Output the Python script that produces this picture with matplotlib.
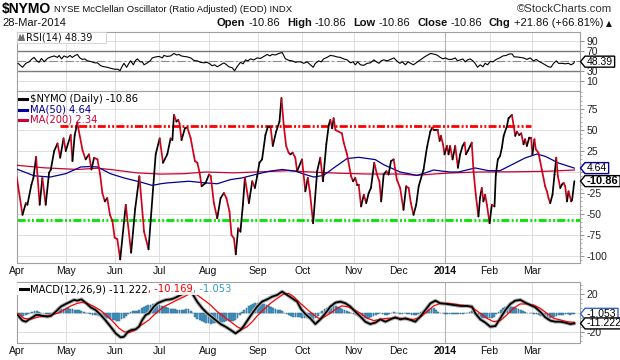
import numpy as np
import matplotlib
matplotlib.use("Agg")
import matplotlib.pyplot as plt
from matplotlib.collections import LineCollection
from matplotlib.transforms import IdentityTransform, blended_transform_factory
from matplotlib.patches import Polygon, Rectangle
from matplotlib.lines import Line2D
from matplotlib.ticker import MultipleLocator, FixedLocator, FixedFormatter

# ---------------- data (x = trading-day index from 1-Apr-2013) ----------------
month_labels = ["Apr", "May", "Jun", "Jul", "Aug", "Sep", "Oct", "Nov", "Dec", "2014", "Feb", "Mar"]
month_idx = [0, 22, 44, 64, 86, 108, 128, 151, 171, 192, 212, 231]

nymo_day = [
    0, 2.6, 4.1, 4.8, 6.6, 7.5, 8.7, 10.3, 11.5, 13,
    14.5, 15.3, 16.8, 18.3, 19.5, 21, 22, 24.2, 25, 26,
    27.2, 29.5, 30.9, 32.4, 33.5, 34.7, 36.2, 37.4, 38.4, 39.5,
    40.6, 41.8, 42.9, 43.9, 45.1, 46.4, 48.9, 51.3, 53.1, 55,
    57.1, 59.1, 62.3, 64.1, 65.6, 67.5, 69, 69.8, 70.5, 71.6,
    72.4, 73, 73.9, 75.4, 76.5, 78, 79.9, 81, 82, 82.9,
    84.7, 86.2, 87, 88.4, 89.9, 91.4, 92.9, 94, 95.4, 96.3,
    97.4, 98.2, 99.3, 100.3, 101.4, 102.3, 104.1, 105.6, 106.8, 107.8,
    108.8, 110, 111.5, 112.6, 113.8, 114.8, 116.3, 117.8, 118.7, 119.7,
    120.8, 121.9, 122.7, 123.7, 124.9, 125.7, 127.9, 129.4, 130.5, 131.4,
    132.9, 134.7, 136.1, 137.3, 138.8, 139.9, 140.6, 141.4, 142.1, 142.9,
    145.8, 146.6, 148.1, 149.9, 150.8, 151.8, 152.6, 153.3, 154.4, 155.6,
    156.7, 157.8, 158.8, 160.3, 161.5, 162.6, 163.4, 164.5, 165.7, 166.7,
    167.8, 169, 170.4, 171.9, 173.4, 174.6, 175.7, 176.7, 177.9, 179.1,
    180.2, 182.4, 183.9, 185.4, 186.3, 186.9, 188.7, 189.6, 190.2, 191.1,
    191.8, 192.9, 193.6, 194.3, 195.4, 196.6, 197.8, 198.8, 199.9, 200.8,
    201.4, 202.2, 203.3, 204, 204.8, 205.8, 207, 207.7, 208.5, 209.2,
    210, 210.8, 212, 213, 214.2, 214.8, 215.7, 216.7, 217.5, 218.3,
    219.7, 220.5, 222, 223.5, 224.2, 225.3, 226.2, 227.2, 227.9, 228.7,
    229.8, 230.6, 231.2, 232.1, 232.7, 233.9, 235.4, 236.9, 237.7, 238.4,
    239.2, 240.2, 241.1, 241.9, 242.6, 243.7, 244.4, 245.2, 245.9, 246.7,
    247.4, 248.6, 249, 250]
nymo_val = [
    -6, -51, -37, -39, -15, -7, 18, -39, -7, -39,
    -1, 3, 25, 34, 17, 40, 25, 44, 13, 44,
    58, 26, 15, 21, 3, 17, 15, -3, -25, -35,
    -31, -51, -58, -78, -80, -104, -39, -96, -44, -5,
    -71, -92, 21, 40, 11, 21, 40, 38, 68, 60,
    62, 58, 38, 52, 53, 40, 13, 11, -1, -17,
    -13, -3, -5, -37, -55, -31, -25, -31, -47, -75,
    -79, -98, -67, -71, -39, -7, -37, -11, -19, -5,
    11, 15, 44, 54, 54, 31, 48, 60, 88, 56,
    31, 23, 21, 23, 17, 1, 15, -23, -7, -23,
    -61, 1, 17, -11, 33, 56, 62, 52, 64, 50,
    46, 35, 21, -5, -11, -7, -15, -15, -41, -27,
    -37, -25, -19, 11, -3, -11, -35, -3, 1, -3,
    13, 15, -9, -19, -45, -17, -19, -37, -51, -39,
    -17, 3, 29, 48, 53, 50, 50, 37, 43, 33,
    21, 31, 21, 31, 15, 31, 5, 21, 31, 35,
    21, 25, 31, 35, 1, -27, -53, -31, -19, -35,
    -27, -39, -61, -39, -41, -3, 15, 19, 29, 43,
    54, 64, 68, 43, 48, 44, 46, 33, 39, 31,
    41, 41, 21, 39, 27, 23, 3, -17, -23, -31,
    -37, -27, -3, 17, -5, -19, -15, -13, -17, -35,
    -23, -35, -33, -10.86]

ma50_day = [0, 7.8, 15, 22, 28.7, 33, 36.2, 42, 48, 55.6,
            60.8, 64.5, 67.5, 77.2, 84.7, 89.9, 95.9, 101.1, 107, 113,
            119, 125, 128.7, 133.2, 137.6, 142.1, 148.1, 153.3, 160.8, 164.5,
            171.9, 179.4, 183.1, 186.9, 191.4, 194.4, 198.1, 205.5, 211.5, 216.7,
            222, 227.9, 233.2, 236.9, 242.9, 250]
ma50_val = [3.5, -4.5, -6, -2, 6, 6.5, 6, -2, -7, -12,
            -16, -14, -13, -11, -13, -14, -9, -7, -3, 0.8,
            3, 1, -2.5, -6, -4, 4.8, 16, 17.5, 14.7, 8.7,
            0, -4, -1.2, 2.4, 0.8, 0, 0, 4.8, 1.6, 1.6,
            8.7, 16.7, 21.4, 18.7, 10.7, 4.64]

ma200_day = [0, 12.3, 27.2, 36.2, 42, 53.7, 64.5, 75, 84.7, 97.4,
             107, 112.3, 121.5, 128, 142, 157, 172, 179.4, 186.9, 194.4,
             207, 222, 236.9, 250]
ma200_val = [8, 5, 3, 4.5, 3, -1, -2.5, -2, 0, -1,
             0, 0.5, 1.6, 0.5, -1.2, -2.4, -2.4, -4, -2.4, -1.2,
             0, 0.2, 0.8, 2.34]

resistance_level = 55
resistance_span = [19.3, 230.6]
support_level = -57

rsi_day = [
    0.6, 2.6, 4.1, 5.6, 6.6, 7.8, 9, 10, 11.1, 12.3,
    13.8, 15.3, 16.8, 18.3, 19, 20.1, 21.2, 22.7, 23.9, 24.9,
    26.2, 27.2, 28.3, 29.5, 30.5, 31.7, 32.9, 35, 36.2, 37.7,
    39.2, 40.6, 42.1, 43.9, 45.4, 46.3, 47.4, 48.1, 49.3, 50.3,
    51.1, 52.3, 53.3, 54.1, 55.3, 56.3, 57.1, 58.6, 59.8, 60.8,
    62.3, 63.8, 65.3, 66, 67.5, 69, 70.5, 71.7, 72.7, 73.8,
    75, 76.5, 78, 79.4, 80.9, 82.4, 83.9, 85.4, 86.6, 87.6,
    88.7, 89.9, 91.4, 92.9, 94.1, 95.1, 96.6, 97.7, 98.8, 100.3,
    101.5, 102.6, 103.6, 104.8, 106.3, 107.8, 109.3, 110.8, 112.3, 113.5,
    114.5, 116, 117.5, 119, 120.5, 122, 123.5, 125, 126, 127.2,
    128.7, 130.2, 131.7, 132.9, 133.9, 135.4, 136.5, 137.6, 139.1, 140.6,
    142.1, 143.6, 145.1, 146.6, 148.1, 149.6, 150.8, 151.8, 152.9, 154.1,
    155.6, 157.1, 158.6, 160.1, 161.3, 162.4, 163.4, 164.6, 166.1, 167.6,
    169.1, 170.6, 171.8, 172.8, 174.3, 175.4, 176.6, 177.8, 178.8, 180.3,
    181.3, 182.8, 184, 185.5, 186.6, 187.7, 188.7, 189.9, 191.1, 192.1,
    193.6, 195.1, 196.6, 197.6, 198.8, 200, 201.1, 202.1, 203.3, 204.5,
    205.5, 206.6, 207.8, 209, 210, 211.1, 212.3, 213.5, 215, 216.5,
    218, 219.4, 220.9, 222.1, 223, 224.2, 225.7, 227.2, 228.7, 230.2,
    231.7, 232.9, 234.1, 235.4, 236.9, 238.4, 239.5, 240.7, 241.9, 242.9,
    244.4, 245.9, 247.4, 248.5, 249.7, 250]
rsi_val = [
    45, 37, 45, 48, 53, 57, 50, 47, 55, 48,
    55, 58, 60, 57, 61, 54, 60, 57, 61, 57,
    61, 63, 56, 53, 54, 50, 49, 46, 46, 40,
    38, 37, 35, 33, 33, 30, 40, 45, 37, 45,
    50, 42, 51, 54, 48, 48, 42, 46, 50, 56,
    58, 59, 56, 61, 59, 60, 65, 62, 63, 60,
    59, 58, 56, 51, 50, 47, 46, 47, 44, 40,
    42, 38, 42, 46, 42, 38, 36, 30, 38, 47,
    44, 52, 50, 54, 52, 56, 55, 59, 63, 60,
    63, 62, 65, 67, 54, 51, 50, 47, 48, 48,
    45, 48, 42, 37, 45, 50, 48, 54, 57, 61,
    60, 58, 57, 54, 52, 46, 48, 42, 48, 42,
    41, 45, 46, 52, 48, 45, 50, 52, 50, 53,
    56, 49, 45, 48, 42, 48, 45, 42, 45, 50,
    53, 58, 61, 65, 64, 63, 61, 57, 54, 56,
    53, 53, 56, 50, 52, 54, 48, 52, 54, 50,
    45, 37, 42, 38, 45, 42, 49, 48, 53, 56,
    60, 61, 64, 64, 58, 58, 57, 56, 53, 56,
    50, 53, 49, 46, 42, 38, 37, 45, 50, 45,
    45, 44, 45, 42, 45, 48.39]

macd_day = [
    0.4, 2.6, 4.1, 5.6, 7.1, 8.6, 10.1, 11.6, 13.8, 15.3,
    17.5, 19.8, 22, 24.2, 25.7, 27.2, 29, 30.9, 33.2, 35.4,
    37.7, 39.9, 42.1, 44.4, 46.6, 48.1, 49.9, 51.4, 53.3, 54.8,
    56.3, 57.8, 59.3, 61.5, 63.1, 64.8, 66.8, 69, 70.5, 72,
    73.5, 75, 76.5, 77.6, 78.7, 80.9, 83.2, 85.4, 86.9, 89.1,
    91.4, 93.6, 95.9, 98.1, 100.3, 101.8, 103.6, 105.6, 107.8, 110,
    112.3, 114.5, 116.8, 119, 121.2, 123.5, 125.7, 127.5, 129.5, 131.7,
    133.9, 136.1, 138.4, 140.6, 142.9, 145.1, 147.4, 149.6, 151.8, 154.1,
    156.3, 158.5, 160.8, 163, 165.3, 167.5, 169.7, 172, 174.2, 176.5,
    178.7, 180.9, 183.2, 185.5, 187.7, 189.9, 192.9, 195.9, 198.9, 201.8,
    204.1, 205.6, 207.8, 210.1, 212.3, 214.6, 216.8, 219.1, 221.3, 223.5,
    225.8, 228, 230.2, 232.5, 234.7, 237, 239.2, 241.4, 243.7, 245.9,
    248.2, 250]
macd_val = [
    -2.3, -8.2, -9.4, -6.9, -4.8, -2.3, -2.3, -3.3, -4, -3.3,
    1.2, 6.6, 9.4, 11.9, 13.7, 12.9, 14.3, 10.8, 5.8, 3,
    -2.3, -8.2, -14.7, -21.8, -26, -25.3, -20, -18.2, -17.5, -14.7,
    -7.5, -2.3, -0.5, 6.6, 10.1, 11.9, 13.7, 14.3, 15.4, 17.1,
    19, 20.7, 22.5, 26, 20.6, 11.8, 4.8, -0.5, -3.3, -7.5,
    -11.9, -14.7, -18.2, -21.8, -18.2, -14, -7.5, -0.5, 6.6, 11.9,
    14.3, 17.1, 19, 22.5, 19, 15.4, 11.9, 4, -1.5, -6,
    -11.9, -6.9, -0.5, 6.6, 10.8, 11.9, 10.1, 6.6, 1.2, -4,
    -9.4, -11.9, -10.4, -6.9, -9.4, -6.9, -4.8, -6.9, -5.8, -7.5,
    -9.4, -4, 3, 10.1, 12.9, 10.1, 9.4, 8.3, 7.3, 7.3,
    6.6, -0.5, -6.9, -10.4, -14.7, -14, -5.8, 3, 9.4, 12.9,
    13.7, 10.8, 8.3, 5.8, 1.2, -4.8, -8.2, -9.4, -9.4, -10.4,
    -11.9, -11.222]

signal_day = [
    0.4, 3.3, 6.1, 9.1, 12.3, 15.3, 18.3, 21.2, 24.2, 27.2,
    29.4, 31.7, 34.7, 37.7, 40.6, 43.6, 45.9, 48.1, 50.3, 52.6,
    54.8, 57.1, 59.3, 61.5, 63.8, 66, 69, 72, 75, 78,
    80.9, 83.9, 86.9, 89.9, 92.9, 95.9, 98.8, 101.1, 103.3, 105.6,
    107.8, 110.8, 113.8, 116.8, 119.7, 122, 124.2, 127.2, 130.2, 133.2,
    136.1, 140.6, 143.6, 145.8, 148.1, 151, 154.1, 157.1, 160.1, 163,
    166, 169, 172, 175, 178, 180.9, 183.9, 186.9, 189.9, 192.9,
    195.9, 198.9, 201.8, 204.8, 207.8, 210.8, 213.8, 216.8, 219.7, 222.7,
    225.7, 228.7, 231.7, 234.7, 237.7, 240.7, 243.7, 246.7, 250]
signal_val = [
    -0.5, -5.8, -6.9, -4.8, -3.3, -2.3, -0.5, 3, 7.3, 10.1,
    11.1, 10.1, 6.6, 2.4, -3.3, -10.4, -16.4, -20, -21.1, -19,
    -14.7, -11.1, -7.5, -2.3, 2.4, 6.6, 10.1, 13.7, 17.1, 20.6,
    19, 13.7, 8.3, 1.2, -4, -9.4, -14.7, -17.5, -14.7, -9.4,
    -3.3, 3.7, 10.1, 15.4, 20, 20.6, 17.1, 10.1, 3.7, -2.3,
    -6.9, -0.5, 4.8, 7.3, 6.6, 3.7, -0.5, -5.8, -8.2, -6.9,
    -5.8, -5.8, -5.8, -6.9, -6.9, -4.8, 1.2, 7.3, 10.1, 10.1,
    9.4, 8.3, 7.3, 4.8, -0.5, -5.8, -9.4, -8.2, -2.3, 4.8,
    9.4, 9.4, 8.3, 4.8, -0.5, -5.8, -7.5, -9.4, -10.169]

# daily MACD histogram, one value per trading day (0..250)
macd_hist = [
    -2, -3, -3, -3, -2, -1, 0, 1, 2, 2, 1, 0, 0, -1, -1, -1,
    0, 1, 2, 3, 4, 4, 5, 5, 4, 4, 3, 3, 3, 2,
    1, 0, 0, -1, -2, -2,
    -2, -3, -4, -5, -6, -6, -7, -8, -8, -9, -9, -7, -5, -3,
    -1, 1, 2,
    2, 2, 3, 5, 6, 7, 8, 8, 9, 9, 8, 8, 7,
    6, 6, 5, 4, 4, 4, 3, 3, 3, 3, 4, 4, 2,
    0, -4, -7, -8, -9, -10, -11, -11, -12, -11, -11, -10, -10, -10, -10, -9, -9, -9, -9, -8, -5, -2,
    1, 3, 5, 7, 8, 9, 10, 10, 10, 9, 9, 8, 7, 6, 5, 4, 3,
    3, 2, 0, -1,
    -2, -3, -4, -4, -4, -4, -5, -5, -6, -6, -7, -8, -6, -3,
    0, 2, 4, 5, 6, 7, 7, 7, 6, 5, 4, 3, 2, 1,
    0, -1, -2, -3, -4, -5, -5, -5, -5, -4, -3,
    -2, -1, 0, -1, -2, -2, -1, 0, 1, 0, 0, -1, -1, 0, -1, -1, -2, -2, -2,
    -1, 1, 2, 3, 4, 4, 5, 5, 3, 1, 0,
    0, -1, -1, -1, -1, -1, -1, -1, -1, -1, 0, 0, 1, 2,
    0, -3, -5, -6, -6, -6, -6, -6, -5, -4, -1,
    1, 3, 5, 6, 7, 7, 6, 6, 5, 4, 3, 2,
    1, 0, 0, 0, -1, -1, -2, -3, -3,
    -4, -5, -5, -4, -4, -3, -2, -2, -2, -1, -1, -2, -1, -1.053]

# ---------------- figure ----------------
W, H = 620, 360
plt.rcParams["font.family"] = ["Liberation Sans", "DejaVu Sans"]
plt.rcParams["lines.scale_dashes"] = False
fig = plt.figure(figsize=(W / 100, H / 100), dpi=100)
fig.patch.set_facecolor("white")
ID = IdentityTransform()
renderer = fig.canvas.get_renderer()

HDR = ["Liberation Sans", "DejaVu Sans"]
VERD = ["DejaVu Sans"]


def ptext(x, y, s, **kw):
    kw.setdefault("va", "center")
    return fig.text(x, H - y, s, transform=ID, **kw)


def seq(x, y, parts, align="left", **common):
    arts, widths = [], []
    for s, kw, gap in parts:
        opts = dict(common)
        opts.update(kw)
        t = ptext(0, y, s, ha="left", **opts)
        arts.append(t)
        widths.append(t.get_window_extent(renderer).width + gap)
    if align == "right":
        x = x - sum(widths)
    for t, w in zip(arts, widths):
        t.set_x(x)
        x += w
    return x


L, R = 16.7, 580.0


def add_ax(top, bottom):
    return fig.add_axes([L / W, 1 - bottom / H, (R - L) / W, (bottom - top) / H])


ax_rsi = add_ax(32, 91)
ax_main = add_ax(91, 263)
ax_macd = add_ax(282, 343)

XMIN = (L - 15.85) / 2.234
XMAX = (R - 15.85) / 2.234

for ax in (ax_rsi, ax_main, ax_macd):
    ax.set_xlim(XMIN, XMAX)
    ax.set_facecolor("white")
    for sp in ax.spines.values():
        sp.set_color("#a0a0a0")
        sp.set_linewidth(0.8)
    ax.set_xticks(month_idx)
    ax.tick_params(axis="x", length=0, labelbottom=False)
    ax.yaxis.tick_right()
    ax.tick_params(axis="y", which="major", direction="out", length=3, width=0.6,
                   color="#808080", labelsize=7.5, pad=1.5, labelcolor="#222222")
    ax.tick_params(axis="y", which="minor", direction="out", length=1.5, width=0.5, color="#909090")
    ax.grid(True, color="#dedede", lw=0.7)
    ax.set_axisbelow(True)
    ax.axvline(month_idx[month_labels.index("2014")], color="#b4b4b4", lw=0.8, zorder=0.6)

# ---- RSI panel
ax_rsi.set_ylim(-11.2, 108.6)
ax_rsi.yaxis.set_major_locator(FixedLocator([10, 30, 50, 70, 90]))
ax_rsi.yaxis.set_major_formatter(FixedFormatter(["10", "30", "", "70", "90"]))
ax_rsi.axhline(70, color="#7a7a7a", lw=1.0, zorder=1)
ax_rsi.axhline(30, color="#7a7a7a", lw=1.0, zorder=1)
ax_rsi.axhline(50, color="#8a8a8a", lw=0.8, ls=(0, (6, 2, 1.5, 2)), zorder=1)
ax_rsi.plot(rsi_day, rsi_val, color="black", lw=0.8, zorder=3)

# ---- main panel
ax_main.set_ylim(-108.3, 96.4)
ax_main.yaxis.set_major_locator(FixedLocator([-100, -75, -50, -25, 0, 25, 50, 75]))
ax_main.yaxis.set_major_formatter(FixedFormatter(["-100", "-75", "-50", "-25", "", "25", "50", "75"]))
ax_main.yaxis.set_minor_locator(MultipleLocator(5))
dd = (0, (5.8, 1.6, 1.4, 1.6, 1.4, 1.6))
ax_main.plot(resistance_span, [resistance_level, resistance_level], color="#ff0000", lw=2.0, ls=dd, zorder=2)
ax_main.axhline(support_level, color="#00e400", lw=2.0, ls=dd, zorder=2)
ax_main.plot(ma200_day, ma200_val, color="#cc0033", lw=0.9, zorder=3)
ax_main.plot(ma50_day, ma50_val, color="#000099", lw=0.9, zorder=3)
xd = np.array(nymo_day, dtype=float)
yd = np.array(nymo_val, dtype=float)
segs = np.stack([np.column_stack([xd[:-1], yd[:-1]]), np.column_stack([xd[1:], yd[1:]])], axis=1)
cols = ["#000000" if d >= 0 else "#d0021b" for d in np.diff(yd)]
ax_main.add_collection(LineCollection(segs, colors=cols, linewidths=1.25, capstyle="round",
                                      joinstyle="round", zorder=4))

# ---- MACD panel
ax_macd.set_ylim(-32.0, 32.7)
ax_macd.yaxis.set_major_locator(FixedLocator([-20, 0, 20]))
ax_macd.yaxis.set_major_formatter(FixedFormatter(["-20", "", "20"]))
ax_macd.yaxis.set_minor_locator(MultipleLocator(5))
ax_macd.bar(np.arange(len(macd_hist)), macd_hist, width=0.8, color="#4a9bc9",
            edgecolor="#25698f", linewidth=0.35, zorder=2)
ax_macd.plot(signal_day, signal_val, color="#ff0000", lw=0.9, zorder=4)
ax_macd.plot(macd_day, macd_val, color="#b0b0b0", lw=2.8, zorder=3, solid_capstyle="round")
ax_macd.plot(macd_day, macd_val, color="#000000", lw=1.3, zorder=5)

# ---- month labels
for ax, ypx in ((ax_main, 271), (ax_macd, 351)):
    tr = blended_transform_factory(ax.transData, ID)
    for i, lab in zip(month_idx, month_labels):
        ax.text(i, H - ypx, lab, transform=tr, ha="center", va="center", fontsize=7.5,
                fontweight="bold" if lab == "2014" else "normal", color="#111111", clip_on=False)


# ---- value tags on right axis
def tag(ax, val, s, edge, bold=False, fs=7.5):
    y = ax.transData.transform((0, val))[1]
    tip = ax.transAxes.transform((1, 0))[0] + 0.5
    t = fig.text(tip + 6, y, s, transform=ID, ha="left", va="center", fontsize=fs,
                 fontweight="bold" if bold else "normal", color="black", zorder=11)
    w = t.get_window_extent(renderer).width
    right = tip + 6 + w + 2
    h = 5.5
    poly = Polygon([(tip, y), (tip + 4.5, y + h), (right, y + h), (right, y - h), (tip + 4.5, y - h)],
                   closed=True, transform=ID, facecolor="white", edgecolor=edge, lw=1.0, zorder=10)
    fig.add_artist(poly)


tag(ax_rsi, rsi_val[-1], f"{rsi_val[-1]:.2f}", "black")
tag(ax_main, ma50_val[-1], f"{ma50_val[-1]:.2f}", "#000099")
tag(ax_main, nymo_val[-1], f"{nymo_val[-1]:.2f}", "black", bold=True, fs=8)
tag(ax_macd, macd_hist[-1], f"{macd_hist[-1]:.3f}", "#3366cc")
tag(ax_macd, macd_val[-1], f"{macd_val[-1]:.3f}", "black")

# ---- legends
fig.add_artist(Rectangle((L, H - 43), 89, 11, transform=ID, facecolor="white",
                         edgecolor="#cfcfcf", lw=0.6, zorder=6))
fig.add_artist(Polygon([(18.5, H - 40.5), (20, H - 34.5), (21.5, H - 38), (23, H - 34.5), (24.5, H - 40.5)],
                       closed=True, transform=ID, facecolor="#777777", edgecolor="#555555", lw=0.5, zorder=7))
ptext(26, 37.5, f"RSI(14) {rsi_val[-1]:.2f}", fontsize=7, family=VERD, color="#111111", zorder=7)

leg = [("\\$NYMO (Daily) " + f"{nymo_val[-1]:.2f}", "#000000", 98.5),
       (f"MA(50) {ma50_val[-1]:.2f}", "#000099", 109.5),
       (f"MA(200) {ma200_val[-1]:.2f}", "#cc0033", 120.0)]
for s, c, yy in leg:
    fig.add_artist(Line2D([19, 27], [H - yy, H - yy], transform=ID, color=c, lw=2.2, zorder=7))
    ptext(29.5, yy, s, fontsize=7.2, family=VERD, color=c, zorder=7)

fig.add_artist(Rectangle((L + 0.5, H - 295), 245, 12.5, transform=ID, facecolor="white",
                         edgecolor="none", alpha=0.9, zorder=6))
fig.add_artist(Line2D([19.5, 27.5], [H - 289, H - 289], transform=ID, color="black", lw=2.2, zorder=7))
seq(30, 289, [(f"MACD(12,26,9) {macd_val[-1]:.3f}", dict(color="black"), 0),
              (f", {signal_val[-1]:.3f}", dict(color="#ff0000"), 0),
              (f", {macd_hist[-1]:.3f}", dict(color="#3399cc"), 0)],
    fontsize=7.2, family=VERD, zorder=7)

# ---- header
title = ptext(2, 9, "\\$NYMO", fontsize=10, fontweight="bold", family=HDR, color="black", ha="left")
tw = title.get_window_extent(renderer).width
ptext(2 + tw + 3, 9.5, "NYSE McClellan Oscillator (Ratio Adjusted) (EOD) INDX", fontsize=6.8,
      family=HDR, color="#111111")
ptext(612, 9, "\u00a9StockCharts.com", fontsize=8.2, family=HDR, color="#333333", ha="right")
ptext(2, 23.5, "28-Mar-2014", fontsize=8, family=HDR, color="#111111")
hdr = []
for lab, val in (("Open", "-10.86"), ("High", "-10.86"), ("Low", "-10.86"), ("Close", "-10.86")):
    hdr.append((lab, dict(fontweight="bold"), 3))
    hdr.append((val, dict(), 7))
hdr.append(("Chg", dict(fontweight="bold"), 3))
hdr.append(("+21.86 (+66.81%)", dict(), 3))
hdr.append(("\u25b2", dict(fontsize=5.5, family=["DejaVu Sans"]), 0))
seq(612, 23.5, hdr, align="right", fontsize=8, family=HDR, color="#111111")

fig.savefig("out.png", dpi=100, facecolor="white")
